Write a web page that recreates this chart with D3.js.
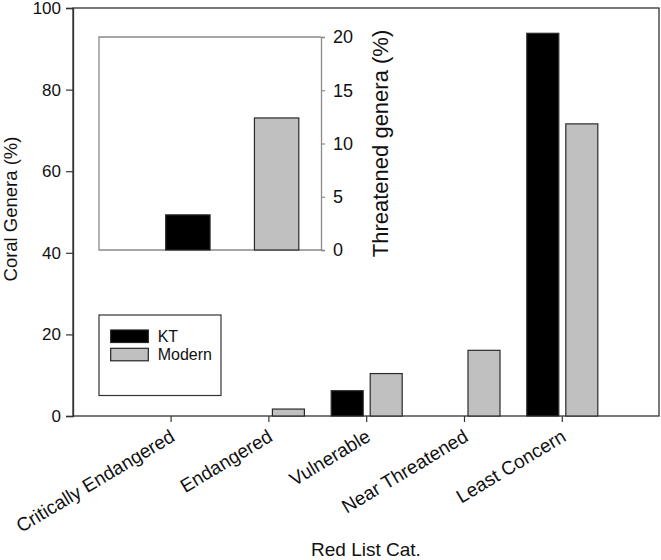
<!DOCTYPE html>
<html>
<head>
<meta charset="utf-8">
<script src="https://cdn.jsdelivr.net/npm/d3@7"></script>
<style>
  body { margin: 0; background: #fff; }
  svg text { font-family: "Liberation Sans", Arial, sans-serif; fill: #111; }
</style>
</head>
<body>
<div class="vis-barchart"></div>
<script>
// data
const categories = ['Critically Endangered', 'Endangered', 'Vulnerable', 'Near Threatened', 'Least Concern'];
const series = ['KT', 'Modern'];
const ktValues = [0, 0, 6.2, 0, 93.8];
const modernValues = [0, 1.7, 10.4, 16.1, 71.6];
const insetCats = ['KT', 'Modern'];
const insetValues = [3.3, 12.4];
const yTicks = [0, 20, 40, 60, 80, 100];
const insetTicks = [0, 5, 10, 15, 20];
const colors = {KT: '#000000', Modern: '#c0c0c0'};

const W = 661, H = 560;
const plot = {left: 73, top: 8, right: 659, bottom: 416};
const inset = {left: 99, top: 37, right: 321, bottom: 250};
const font = '"Liberation Sans", Arial, sans-serif';

const svg = d3.select('.vis-barchart').append('svg')
    .attr('width', W)
    .attr('height', H);

// scales
let x = d3.scaleBand()
    .domain(categories)
    .range([122.2, 611.2]);
let xSub = d3.scaleBand()
    .domain(series)
    .range([-35.5, 35.5])
    .paddingInner(7 / 39);
let y = d3.scaleLinear()
    .domain([0, 100])
    .range([plot.bottom, plot.top]);

const rows = categories.map((c, i) => ({cat: c, KT: ktValues[i], Modern: modernValues[i]}));

// frame
svg.append('rect')
    .attr('x', plot.left).attr('y', plot.top)
    .attr('width', plot.right - plot.left).attr('height', plot.bottom - plot.top)
    .attr('fill', 'none').attr('stroke', '#333').attr('stroke-width', 1.3);

// bars
const groups = svg.selectAll('.grp')
    .data(rows)
    .enter().append('g')
    .attr('transform', d => 'translate(' + (x(d.cat) + x.bandwidth() / 2) + ',0)');
groups.selectAll('rect')
    .data(d => series.map(s => ({key: s, value: d[s]})).filter(v => v.value > 0))
    .enter().append('rect')
    .attr('x', d => xSub(d.key))
    .attr('width', xSub.bandwidth())
    .attr('y', d => y(d.value))
    .attr('height', d => plot.bottom - y(d.value))
    .attr('fill', d => colors[d.key])
    .attr('stroke', '#2a2a2a')
    .attr('stroke-width', 1.2);

// y axis
const yAxis = svg.append('g')
    .attr('transform', 'translate(' + plot.left + ',0)')
    .call(d3.axisLeft(y).tickValues(yTicks).tickSize(7).tickPadding(5));
yAxis.select('.domain').attr('stroke', '#333').attr('stroke-width', 1.3);
yAxis.selectAll('.tick line').attr('stroke', '#333').attr('stroke-width', 1.2);
yAxis.selectAll('text').attr('font-size', 17).attr('font-family', font).attr('fill', '#111');

// x axis
const xAxis = svg.append('g')
    .attr('transform', 'translate(0,' + plot.bottom + ')')
    .call(d3.axisBottom(x).tickSize(6).tickFormat(''));
xAxis.select('.domain').remove();
xAxis.selectAll('.tick line').attr('stroke', '#333').attr('stroke-width', 1.2);

svg.selectAll('.xlab')
    .data(categories)
    .enter().append('text')
    .attr('class', 'xlab')
    .attr('transform', d => 'translate(' + (x(d) + x.bandwidth() / 2 + 5) + ',440) rotate(-31)')
    .attr('text-anchor', 'end')
    .attr('font-size', 19)
    .text(d => d);

// axis titles
svg.append('text')
    .attr('transform', 'translate(17,' + ((plot.top + plot.bottom) / 2 - 3) + ') rotate(-90)')
    .attr('text-anchor', 'middle')
    .attr('font-size', 18.5)
    .text('Coral Genera (%)');

svg.append('text')
    .attr('x', (plot.left + plot.right) / 2).attr('y', 556)
    .attr('text-anchor', 'middle')
    .attr('font-size', 19)
    .text('Red List Cat.');

// legend
const legend = svg.append('g');
legend.append('rect')
    .attr('x', 99).attr('y', 315).attr('width', 122).attr('height', 80.5)
    .attr('fill', '#fff').attr('stroke', '#333').attr('stroke-width', 1.2);
series.forEach((s, i) => {
    legend.append('rect')
        .attr('x', 110.7).attr('y', 330 + i * 18.3).attr('width', 37.6).attr('height', 12.5)
        .attr('fill', colors[s]).attr('stroke', '#222').attr('stroke-width', 1.2);
    legend.append('text')
        .attr('x', 157.7).attr('y', 342.3 + i * 17.8)
        .attr('font-size', 16)
        .text(s);
});

// inset
let xi = d3.scaleBand()
    .domain(insetCats)
    .range([inset.left + 44.5, inset.right])
    .paddingInner(0.5)
    .paddingOuter(0.25);
let yi = d3.scaleLinear()
    .domain([0, 20])
    .range([inset.bottom, inset.top]);

const insetG = svg.append('g');
insetG.append('path')
    .attr('d', 'M' + inset.right + ',' + inset.top + 'H' + inset.left + 'V' + inset.bottom + 'H' + inset.right)
    .attr('fill', 'none').attr('stroke', '#8a8a8a').attr('stroke-width', 1.3);

insetG.selectAll('.ibar')
    .data(insetCats)
    .enter().append('rect')
    .attr('x', d => xi(d))
    .attr('width', xi.bandwidth())
    .attr('y', (d, i) => yi(insetValues[i]))
    .attr('height', (d, i) => inset.bottom - yi(insetValues[i]))
    .attr('fill', d => colors[d])
    .attr('stroke', '#2a2a2a')
    .attr('stroke-width', 1.2);

const yiAxis = insetG.append('g')
    .attr('transform', 'translate(' + inset.right + ',0)')
    .call(d3.axisRight(yi).tickValues(insetTicks).tickSize(4).tickPadding(8));
yiAxis.select('.domain').attr('stroke', '#8a8a8a').attr('stroke-width', 1.3);
yiAxis.selectAll('.tick line').attr('stroke', '#8a8a8a').attr('stroke-width', 1.2);
yiAxis.selectAll('text').attr('font-size', 18).attr('font-family', font).attr('fill', '#111');

insetG.append('text')
    .attr('transform', 'translate(388,143.5) rotate(-90)')
    .attr('text-anchor', 'middle')
    .attr('font-size', 22)
    .text('Threatened genera (%)');
</script>
</body>
</html>
